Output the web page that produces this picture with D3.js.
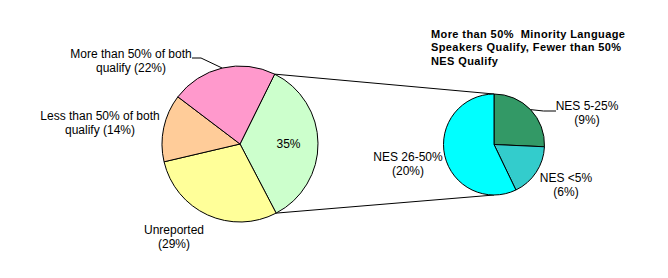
<!doctype html>
<html>

<head>
  <meta charset="utf-8">
  <title>pie of pie</title>
  <style>
    body { margin: 0; background: #fff; }
    #chart { width: 668px; height: 278px; }
    text { font-family: Arial, "Liberation Sans", sans-serif; font-size: 12px; fill: #000; }
    .title { font-weight: bold; font-size: 11px; letter-spacing: 0.4px; white-space: pre; }
  </style>
</head>

<body>
  <div id="chart"></div>
  <script src="https://d3js.org/d3.v7.min.js"></script>
  <script>
    // main pie, clockwise starting at the exploded slice
    const mainNames = ['Other', 'Unreported', 'Less than 50% of both qualify', 'More than 50% of both qualify'];
    const mainValues = [35, 29, 14, 22];
    const mainColors = ['#ccffcc', '#ffff99', '#ffcc99', '#ff99cc'];

    // second pie, splits the 35% slice
    const subNames = ['NES 5-25%', 'NES <5%', 'NES 26-50%'];
    const subValues = [9, 6, 20];
    const subColors = ['#339966', '#33cccc', '#00ffff'];

    const titleLines = ['More than 50%  Minority Language', 'Speakers Qualify, Fewer than 50%', 'NES Qualify'];

    const width = 668, height = 278;
    const svg = d3.select('#chart').append('svg')
      .attr('width', width)
      .attr('height', height);

    const deg = Math.PI / 180;
    const main = { cx: 240, cy: 144, r: 78, start: 26.4 * deg };
    const sub = { cx: 494, cy: 144.5, r: 50.5, start: 0 };

    const pt = (p, a, r) => [p.cx + (r || p.r) * Math.sin(a), p.cy - (r || p.r) * Math.cos(a)];

    const mainArcs = d3.pie().sort(null)
      .startAngle(main.start).endAngle(main.start + 2 * Math.PI)(mainValues);
    const subArcs = d3.pie().sort(null)
      .startAngle(sub.start).endAngle(sub.start + 2 * Math.PI)(subValues);

    const mainArc = d3.arc().innerRadius(0).outerRadius(main.r);
    const subArc = d3.arc().innerRadius(0).outerRadius(sub.r);

    // connector lines between the two pies
    const other = mainArcs[0];
    const conn = [
      [pt(main, other.startAngle), pt(sub, 0)],
      [pt(main, other.endAngle), pt(sub, Math.PI)]
    ];
    svg.selectAll('.conn').data(conn).join('line')
      .attr('class', 'conn')
      .attr('x1', d => d[0][0]).attr('y1', d => d[0][1])
      .attr('x2', d => d[1][0]).attr('y2', d => d[1][1])
      .attr('stroke', '#000').attr('stroke-width', 1);

    svg.append('g').attr('transform', `translate(${main.cx},${main.cy})`)
      .selectAll('path').data(mainArcs).join('path')
      .attr('d', mainArc)
      .attr('fill', (d, i) => mainColors[i])
      .attr('stroke', '#000').attr('stroke-width', 1);

    svg.append('g').attr('transform', `translate(${sub.cx},${sub.cy})`)
      .selectAll('path').data(subArcs).join('path')
      .attr('d', subArc)
      .attr('fill', (d, i) => subColors[i])
      .attr('stroke', '#000').attr('stroke-width', 1);

    const fmt = v => `(${v}%)`;

    // label layout: [x, baseline, lines]
    const mainLabels = [
      { x: 288.5, y: 147.5, lines: [`${mainValues[0]}%`] },
      { x: 174, y: 233.5, lines: ['Unreported', fmt(mainValues[1])] },
      { x: 100, y: 120, lines: ['Less than 50% of both', 'qualify ' + fmt(mainValues[2])] },
      { x: 131, y: 58, lines: ['More than 50% of both', 'qualify ' + fmt(mainValues[3])], leader: [[201, 58], [192, 58]] }
    ];
    const subLabels = [
      { x: 587, y: 109.5, lines: [subNames[0], fmt(subValues[0])], leader: [[543.5, 111], [556, 111]] },
      { x: 566, y: 181.5, lines: [subNames[1], fmt(subValues[1])] },
      { x: 408, y: 161, lines: [subNames[2], fmt(subValues[2])] }
    ];

    const drawLabels = (labels, arcs, p) => {
      labels.forEach((l, i) => {
        if (l.leader) {
          const a = (arcs[i].startAngle + arcs[i].endAngle) / 2;
          const pts = [pt(p, a)].concat(l.leader);
          svg.append('path')
            .attr('d', d3.line()(pts))
            .attr('fill', 'none').attr('stroke', '#000').attr('stroke-width', 1);
        }
        const t = svg.append('text')
          .attr('text-anchor', 'middle')
          .attr('x', l.x).attr('y', l.y);
        l.lines.forEach((s, j) => {
          t.append('tspan').attr('x', l.x).attr('dy', j ? 14 : 0).text(s);
        });
      });
    };
    drawLabels(mainLabels, mainArcs, main);
    drawLabels(subLabels, subArcs, sub);

    const title = svg.append('text').attr('class', 'title').attr('x', 431).attr('y', 37.5);
    titleLines.forEach((s, j) => {
      title.append('tspan').attr('x', 431).attr('dy', j ? 13.5 : 0).text(s);
    });
  </script>
</body>

</html>
